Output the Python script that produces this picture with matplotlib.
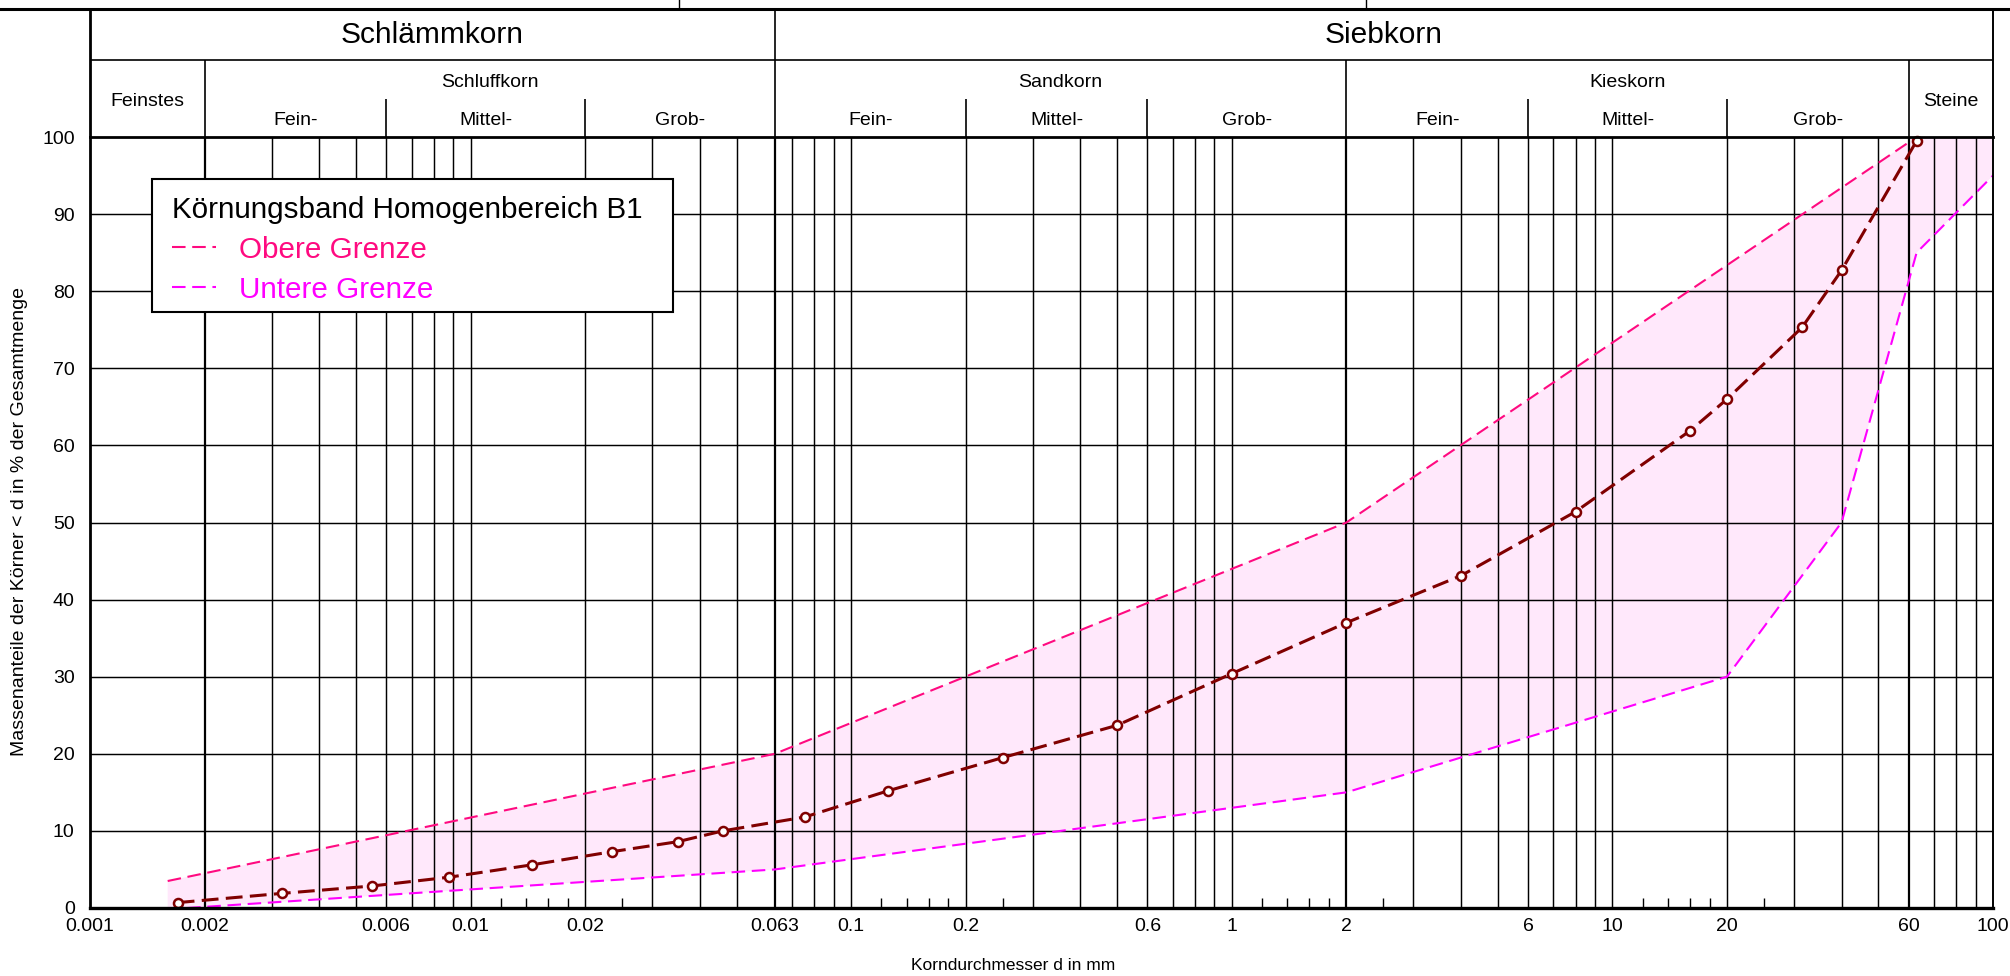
import numpy as np
import matplotlib
matplotlib.use("Agg")
import matplotlib.pyplot as plt
from matplotlib.lines import Line2D
from matplotlib.patches import Rectangle
from matplotlib.ticker import NullFormatter

plt.rcParams['font.family'] = ['Liberation Sans', 'DejaVu Sans']

# Koernungslinie (Korndurchmesser in mm / Massenanteil in %)
korn_d = [0.0017, 0.0032, 0.0055, 0.0088, 0.0145, 0.0235, 0.035, 0.046, 0.0755,
          0.125, 0.25, 0.5, 1.0, 2.0, 4.0, 8.0, 16.0, 20.0, 31.5, 40.0, 63.0]
korn_p = [0.7, 1.9, 2.85, 4.0, 5.6, 7.3, 8.6, 10.0, 11.8,
          15.2, 19.5, 23.7, 30.4, 37.0, 43.1, 51.4, 61.9, 66.0, 75.3, 82.7, 99.5]

# Koernungsband Grenzen
obere_d = [0.0016, 0.063, 2.0, 63.0]
obere_p = [3.5, 20.0, 50.0, 100.0]
untere_d = [0.0018, 0.063, 2.0, 20.0, 40.0, 63.0, 100.0]
untere_p = [0.0, 5.0, 15.0, 30.0, 50.0, 85.0, 95.0]

# Achsen / Raster
x_ticks = [0.001, 0.002, 0.006, 0.01, 0.02, 0.063, 0.1, 0.2, 0.6, 1, 2, 6, 10, 20, 60, 100]
x_tick_labels = ["0.001", "0.002", "0.006", "0.01", "0.02", "0.063", "0.1", "0.2", "0.6",
                 "1", "2", "6", "10", "20", "60", "100"]
y_ticks = list(range(0, 101, 10))
duenne_linien = [0.003, 0.004, 0.005, 0.006, 0.007, 0.008, 0.009, 0.01,
                 0.02, 0.03, 0.04, 0.05, 0.07, 0.08, 0.09, 0.1,
                 0.2, 0.3, 0.4, 0.5, 0.6, 0.7, 0.8, 0.9, 1,
                 3, 4, 5, 6, 7, 8, 9, 10, 20, 30, 40, 50, 70, 80, 90]
dicke_linien = [0.002, 0.063, 2, 60]
kurze_striche = [0.012, 0.014, 0.016, 0.018, 0.025, 0.12, 0.14, 0.16, 0.18, 0.25,
                 1.2, 1.4, 1.6, 1.8, 2.5, 12, 14, 16, 18, 25]

# Kopfzeile
haupt = [("Schlämmkorn", 0.001, 0.063), ("Siebkorn", 0.063, 100)]
gruppen = [("Schluffkorn", 0.002, 0.063), ("Sandkorn", 0.063, 2), ("Kieskorn", 2, 60)]
einzeln = [("Feinstes", 0.001, 0.002), ("Steine", 60, 100)]
unter = [("Fein-", 0.002, 0.006), ("Mittel-", 0.006, 0.02), ("Grob-", 0.02, 0.063),
         ("Fein-", 0.063, 0.2), ("Mittel-", 0.2, 0.6), ("Grob-", 0.6, 2),
         ("Fein-", 2, 6), ("Mittel-", 6, 20), ("Grob-", 20, 60)]

W, H = 2010, 976
fig = plt.figure(figsize=(W / 100, H / 100), dpi=100)
ax = fig.add_axes([90 / W, 68 / H, 1903 / W, 771 / H])
ax.set_xscale('log')
ax.set_xlim(0.001, 100)
ax.set_ylim(0, 100)

# band
band_x = obere_d + [100.0] + untere_d[::-1] + [obere_d[0]]
band_y = obere_p + [100.0] + untere_p[::-1] + [0.0]
ax.fill(band_x, band_y, color='#ffe8fb', lw=0, zorder=1)

# raster
ax.vlines(duenne_linien, 0, 100, color='black', lw=1.05, zorder=2)
ax.vlines(dicke_linien, 0, 100, color='black', lw=1.6, zorder=2)
ax.hlines(y_ticks[1:-1], 0.001, 100, color='black', lw=1.05, zorder=2)

ax.plot(obere_d, obere_p, color='#ff0a80', lw=1.5, dashes=(6.5, 3.2), zorder=3,
        label='Obere Grenze', clip_on=False)
ax.plot(untere_d, untere_p, color='#ff00ff', lw=1.5, dashes=(6.5, 3.2), zorder=3,
        label='Untere Grenze', clip_on=False)
ax.plot(korn_d, korn_p, color='#800000', lw=2.2, dashes=(5.5, 2.4), marker='o', ms=6.5,
        mfc='white', mec='#800000', mew=1.8, zorder=4, clip_on=False)

for side, lw in [('left', 2.0), ('bottom', 2.4), ('top', 2.0), ('right', 1.4)]:
    ax.spines[side].set_linewidth(lw)
    ax.spines[side].set_zorder(6)

ax.set_xticks(x_ticks, labels=x_tick_labels)
ax.set_xticks(kurze_striche, minor=True)
ax.xaxis.set_minor_formatter(NullFormatter())
ax.tick_params(axis='x', which='major', length=0, pad=7, labelsize=14)
ax.tick_params(axis='x', which='minor', direction='in', length=7, width=1.0)
ax.set_yticks(y_ticks)
ax.tick_params(axis='y', length=0, pad=11, labelsize=14)

# kopf
hkw = dict(color='black', lw=1.2, clip_on=False, zorder=6)
ax.hlines(110, 0.001, 100, **hkw)
ax.vlines([0.063], 100, 116.6, **hkw)
ax.vlines([0.001], 100, 116.6, color='black', lw=2.0, clip_on=False, zorder=6)
ax.vlines([100], 100, 116.6, color='black', lw=1.4, clip_on=False, zorder=6)
ax.vlines([0.002, 2, 60], 100, 110, **hkw)
ax.vlines([0.006, 0.02, 0.2, 0.6, 6, 20], 100, 104.9, **hkw)
for name, a, b in haupt:
    ax.text(np.sqrt(a * b), 113.2, name, ha='center', va='center', fontsize=21.5)
for name, a, b in gruppen:
    ax.text(np.sqrt(a * b), 107.1, name, ha='center', va='center', fontsize=14)
for name, a, b in einzeln:
    ax.text(np.sqrt(a * b), 104.6, name, ha='center', va='center', fontsize=14)
for name, a, b in unter:
    ax.text(np.sqrt(a * b), 102.2, name, ha='center', va='center', fontsize=14)

fig.add_artist(Line2D([0, 1], [1 - 9 / H] * 2, transform=fig.transFigure, color='black', lw=2.2))
for xp in (679, 1366):
    fig.add_artist(Line2D([xp / W] * 2, [1, 1 - 9 / H], transform=fig.transFigure, color='black', lw=1.0))

fig.text(1013 / W, 1 - 970 / H, "Korndurchmesser d in mm", ha='center', va='baseline', fontsize=12.5)
fig.text(20 / W, 1 - 522 / H, "Massenanteile der Körner < d in % der Gesamtmenge",
         rotation=90, ha='center', va='center', fontsize=14)

# legende
fig.add_artist(Rectangle((152 / W, 1 - 312 / H), 521 / W, 133 / H, transform=fig.transFigure,
                         facecolor='white', edgecolor='black', lw=1.5, zorder=4))
handles, labels = ax.get_legend_handles_labels()
leg = fig.legend(handles, labels, loc='upper left', bbox_to_anchor=(172 / W, 1 - 196 / H),
                 bbox_transform=fig.transFigure, frameon=False,
                 title="Körnungsband Homogenbereich B1", title_fontsize=21.3, fontsize=21.3,
                 alignment='left', handlelength=1.5, handletextpad=0.75, labelspacing=0.4,
                 borderpad=0, borderaxespad=0, labelcolor='linecolor')
leg.set_zorder(5)

fig.savefig("out.png", dpi=100)
